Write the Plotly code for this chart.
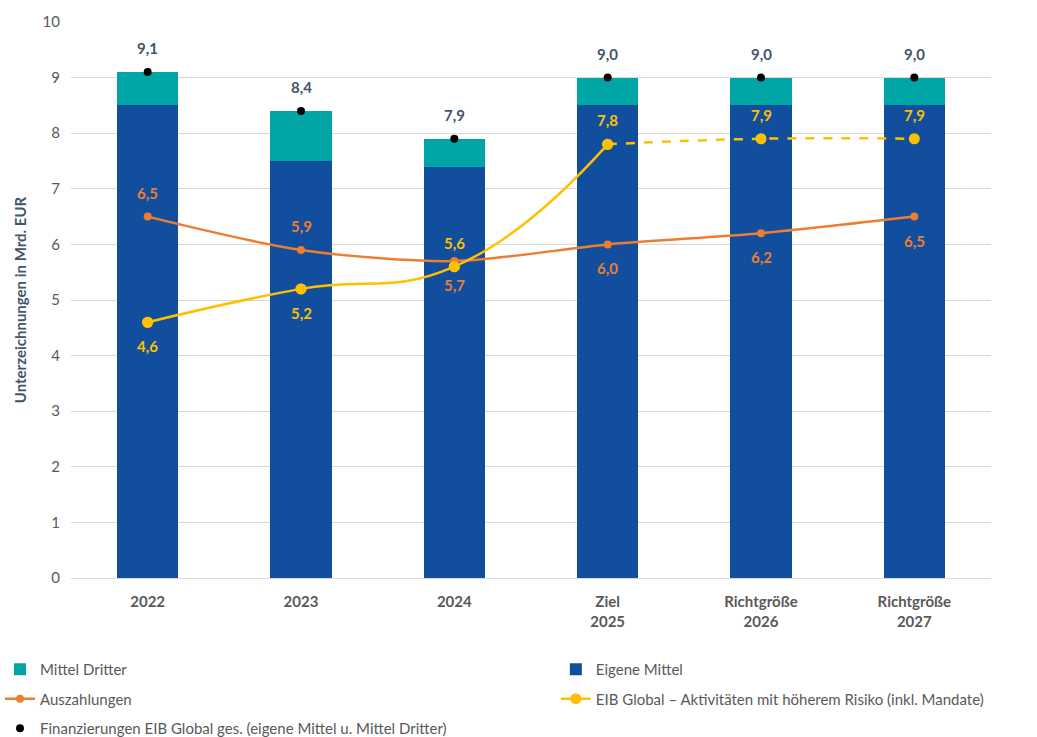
import plotly.graph_objects as go

# Categories and values (Mrd. EUR)
categories = ["2022", "2023", "2024", "Ziel<br>2025", "Richtgröße<br>2026", "Richtgröße<br>2027"]
eigene_mittel = [8.5, 7.5, 7.4, 8.5, 8.5, 8.5]
mittel_dritter = [0.6, 0.9, 0.5, 0.5, 0.5, 0.5]
finanzierungen_gesamt = [9.1, 8.4, 7.9, 9.0, 9.0, 9.0]
auszahlungen = [6.5, 5.9, 5.7, 6.0, 6.2, 6.5]
hoeheres_risiko = [4.6, 5.2, 5.6, 7.8, 7.9, 7.9]

# label placement per point: +1 above, -1 below
aus_side = [1, 1, -1, -1, -1, -1]
risk_side = [-1, -1, 1, 1, 1, 1]

BLUE = "#114F9E"
TEAL = "#00A6A6"
ORANGE = "#ED7D31"
YELLOW = "#FFC000"
SLATE = "#44546A"
GREY_TXT = "#595959"
FONT = "Lato"


def fmt(v):
    return f"{v:.1f}".replace(".", ",")


fig = go.Figure()

fig.add_trace(go.Bar(
    x=categories, y=eigene_mittel, name="Eigene Mittel",
    marker=dict(color=BLUE, line=dict(width=0)), width=0.4,
    legend="legend2", legendgroup="g2", legendrank=1,
    hoverinfo="skip",
))
fig.add_trace(go.Bar(
    x=categories, y=mittel_dritter, name="Mittel Dritter",
    marker=dict(color=TEAL, line=dict(width=0)), width=0.4,
    legend="legend", legendgroup="g1", legendrank=1,
    hoverinfo="skip",
))

# Auszahlungen
fig.add_trace(go.Scatter(
    x=categories, y=auszahlungen, name="Auszahlungen",
    mode="lines+markers",
    line=dict(color=ORANGE, width=2.5, shape="spline", smoothing=0.8),
    marker=dict(color=ORANGE, size=8),
    legend="legend", legendgroup="g3", legendrank=2,
    hoverinfo="skip",
))

# EIB Global – higher-risk activities: actual values solid, planned values dashed
n_solid = 4
fig.add_trace(go.Scatter(
    x=categories[n_solid - 1:], y=hoeheres_risiko[n_solid - 1:],
    mode="lines", showlegend=False,
    line=dict(color=YELLOW, width=2.5, dash="dash", shape="spline", smoothing=1.3),
    hoverinfo="skip",
))
fig.add_trace(go.Scatter(
    x=categories[:n_solid], y=hoeheres_risiko[:n_solid],
    name="EIB Global – Aktivitäten mit höherem Risiko (inkl. Mandate)",
    mode="lines+markers",
    line=dict(color=YELLOW, width=2.5, shape="spline", smoothing=1.3),
    marker=dict(color=YELLOW, size=11),
    legend="legend2", legendgroup="g4", legendrank=2,
    hoverinfo="skip",
))
fig.add_trace(go.Scatter(
    x=categories, y=hoeheres_risiko, mode="markers", showlegend=False,
    marker=dict(color=YELLOW, size=11),
    hoverinfo="skip",
))

# Total financing dots
fig.add_trace(go.Scatter(
    x=categories, y=finanzierungen_gesamt,
    name="Finanzierungen EIB Global ges. (eigene Mittel u. Mittel Dritter)",
    mode="markers",
    marker=dict(color="black", size=8),
    legend="legend", legendgroup="g5", legendrank=3,
    hoverinfo="skip",
))

# Value labels (x given as category index on the category axis)
LABEL_SHIFT = 24
annotations = []


def add_labels(values, sides, color):
    for i, (v, s) in enumerate(zip(values, sides)):
        annotations.append(dict(x=i, y=v, xref="x", yref="y", text=f"<b>{fmt(v)}</b>",
                                showarrow=False, yshift=s * LABEL_SHIFT,
                                font=dict(color=color, size=15, family=FONT)))


add_labels(finanzierungen_gesamt, [1] * len(categories), SLATE)
add_labels(auszahlungen, aus_side, ORANGE)
add_labels(hoeheres_risiko, risk_side, YELLOW)

legend_common = dict(
    orientation="v", xanchor="left", yanchor="top", yref="container",
    font=dict(size=15, family=FONT, color=GREY_TXT),
    tracegroupgap=7, bgcolor="rgba(0,0,0,0)", itemwidth=30,
)

fig.update_layout(
    width=1037, height=737,
    margin=dict(l=71, r=46, t=22, b=159),
    paper_bgcolor="white", plot_bgcolor="white",
    barmode="stack",
    font=dict(family=FONT, color=GREY_TXT, size=14),
    showlegend=True,
    legend=dict(x=-0.0926, y=0.114, **legend_common),
    legend2=dict(x=0.527, y=0.114, **legend_common),
    annotations=annotations,
    xaxis=dict(
        type="category", range=[-0.5, 5.5], showgrid=False, automargin=False,
        showline=True, linecolor="#D9D9D9", linewidth=1,
        ticks="", ticklabelstandoff=10,
        tickfont=dict(size=15, family=FONT, color=GREY_TXT, weight="bold"),
    ),
    yaxis=dict(
        range=[0, 10], dtick=1, showgrid=True, gridcolor="#D9D9D9", gridwidth=1,
        zeroline=False, ticks="", automargin=False, ticklabelstandoff=10,
        tickfont=dict(size=15, family=FONT, color=GREY_TXT),
        title=dict(text="Unterzeichnungen in Mrd. EUR",
                   font=dict(size=15, family=FONT, color=SLATE, weight="bold"),
                   standoff=12),
    ),
)

fig.write_html("out.html")
